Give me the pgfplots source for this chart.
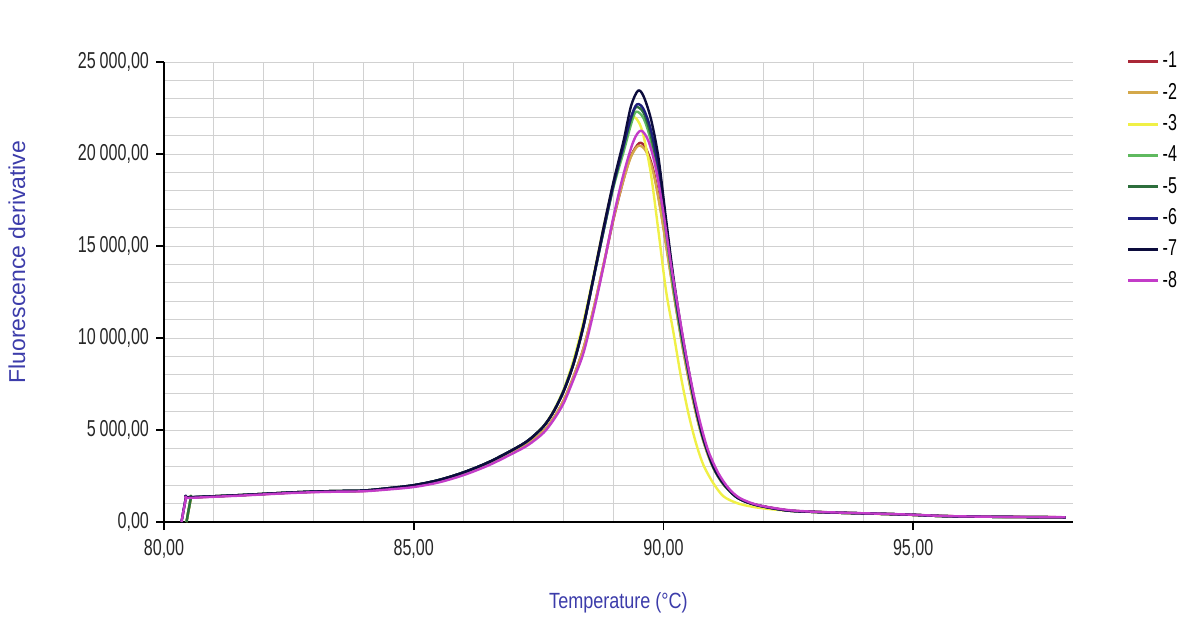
\documentclass[border=0pt]{standalone}
\usepackage{fontspec}
\setmainfont{Liberation Sans}
\newfontfamily\narrowfont{Liberation Sans}[FakeStretch=0.7]
\newfontfamily\xlabfont{Liberation Sans}[FakeStretch=0.82]
\usepackage{pgfplots}
\pgfplotsset{compat=1.18}
\definecolor{c1}{RGB}{170,40,55}
\definecolor{c2}{RGB}{212,168,74}
\definecolor{c3}{RGB}{240,240,70}
\definecolor{c4}{RGB}{95,185,95}
\definecolor{c5}{RGB}{45,110,60}
\definecolor{c6}{RGB}{30,30,125}
\definecolor{c7}{RGB}{12,12,60}
\definecolor{c8}{RGB}{195,60,200}
\definecolor{labblue}{RGB}{60,60,170}
\begin{document}
\begin{tikzpicture}[x=1pt,y=1pt]
\useasboundingbox (0,0) rectangle (591,311.5);
\begin{axis}[
  at={(82pt,50.5pt)}, anchor=south west,
  scale only axis, width=454.5pt, height=230pt,
  xmin=80, xmax=98.2, ymin=0, ymax=25000,
  scaled y ticks=false, scaled x ticks=false,
  axis x line*=bottom, axis y line*=left,
  axis line style={line width=1pt,-},
  xtick={80,85,90,95},
  xticklabels={{80,00},{85,00},{90,00},{95,00}},
  ytick={0,5000,10000,15000,20000,25000},
  yticklabels={{0,00},{5\,000,00},{10\,000,00},{15\,000,00},{20\,000,00},{25\,000,00}},
  minor x tick num=4, minor y tick num=4,
  grid=both,
  grid style={color=black!18, line width=0.5pt},
  major grid style={color=black!18, line width=0.5pt},
  tick style={black, line width=0.8pt},
  major tick length=4pt, minor tick length=0pt,
  tick align=outside,
  tick label style={font=\narrowfont\fontsize{11.5}{13}\selectfont, text=black!85},
  xticklabel style={yshift=-1pt},
  xlabel={Temperature (°C)},
  xlabel style={at={(axis description cs:0.5,-0.176)}, anchor=center, font=\xlabfont\fontsize{11}{13}\selectfont, text=labblue},
  ylabel={Fluorescence derivative},
  ylabel style={at={(axis description cs:-0.1617,0.565)}, anchor=center, font=\fontsize{11.5}{13}\selectfont, text=labblue},
  legend style={at={(axis description cs:1.052,1.038)}, anchor=north west, draw=none, fill=none,
    font=\narrowfont\fontsize{11.5}{13}\selectfont, row sep=3.2pt, nodes={inner sep=1.5pt}},
  legend cell align=left,
  legend image code/.code={\draw[#1,line width=1.5pt] (0pt,0pt) -- (15pt,0pt);},
  every axis plot/.append style={line width=1.2pt, line join=round, smooth, tension=0.5},
]
% -1
\addplot[c1] coordinates {(80.45,0)(80.54,1330)(80.56,1332)(81.0,1390)(81.5,1450)(82.0,1520)(82.5,1590)(83.0,1640)(83.5,1670)(84.0,1690)(84.5,1800)(85.0,1940)(85.5,2200)(86.0,2600)(86.5,3130)(87.0,3820)(87.3,4280)(87.6,4950)(87.8,5650)(88.0,6600)(88.2,7900)(88.4,9450)(88.6,11550)(88.8,13950)(89.0,16450)(89.2,18600)(89.35,19900)(89.52,20600)(89.65,20300)(89.8,19100)(89.95,16900)(90.1,14300)(90.25,11700)(90.4,9300)(90.55,7200)(90.7,5400)(90.85,4000)(91.0,2950)(91.2,2050)(91.45,1400)(91.7,1060)(92.0,850)(92.5,630)(93.0,555)(93.5,510)(94.0,470)(94.5,435)(95.0,390)(95.5,335)(96.0,305)(96.5,290)(97.0,278)(97.5,268)(98.05,258)};
\addlegendentry{-1}
% -2
\addplot[c2] coordinates {(80.45,0)(80.54,1330)(80.56,1332)(81.0,1390)(81.5,1450)(82.0,1520)(82.5,1590)(83.0,1640)(83.5,1670)(84.0,1690)(84.5,1800)(85.0,1940)(85.5,2200)(86.0,2600)(86.5,3130)(87.0,3820)(87.3,4280)(87.6,4950)(87.8,5650)(88.0,6600)(88.2,7900)(88.4,9450)(88.6,11600)(88.8,14000)(89.0,16500)(89.2,18600)(89.35,19850)(89.5,20450)(89.65,20150)(89.8,18950)(89.95,16800)(90.1,14200)(90.25,11650)(90.4,9250)(90.55,7150)(90.7,5350)(90.85,3950)(91.0,2930)(91.2,2040)(91.45,1390)(91.7,1055)(92.0,845)(92.5,628)(93.0,553)(93.5,508)(94.0,468)(94.5,433)(95.0,388)(95.5,333)(96.0,303)(96.5,288)(97.0,276)(97.5,266)(98.05,256)};
\addlegendentry{-2}
% -3
\addplot[c3] coordinates {(80.45,0)(80.54,1340)(80.56,1342)(81.0,1400)(81.5,1460)(82.0,1530)(82.5,1600)(83.0,1655)(83.5,1685)(84.0,1710)(84.5,1840)(85.0,2000)(85.5,2280)(86.0,2700)(86.5,3250)(87.0,3950)(87.3,4450)(87.6,5220)(87.8,6050)(88.0,7200)(88.2,8800)(88.4,10900)(88.6,13400)(88.8,16000)(89.0,18400)(89.2,20500)(89.38,21950)(89.5,21750)(89.6,21000)(89.75,18900)(89.9,15800)(90.05,12600)(90.2,10300)(90.35,7900)(90.5,5900)(90.65,4300)(90.8,3100)(91.0,2100)(91.2,1400)(91.45,1050)(91.7,870)(92.0,740)(92.5,610)(93.0,545)(93.5,500)(94.0,465)(94.5,430)(95.0,385)(95.5,330)(96.0,300)(96.5,285)(97.0,275)(97.5,265)(98.05,255)};
\addlegendentry{-3}
% -4
\addplot[c4] coordinates {(80.45,0)(80.54,1340)(80.56,1342)(81.0,1400)(81.5,1460)(82.0,1530)(82.5,1600)(83.0,1655)(83.5,1685)(84.0,1710)(84.5,1840)(85.0,2000)(85.5,2280)(86.0,2700)(86.5,3250)(87.0,3950)(87.3,4450)(87.6,5200)(87.8,6000)(88.0,7150)(88.2,8650)(88.4,10700)(88.6,13250)(88.8,15800)(89.0,18200)(89.2,20100)(89.35,21600)(89.45,22300)(89.6,21950)(89.75,20700)(89.9,18600)(90.05,15700)(90.2,12700)(90.35,10200)(90.5,8050)(90.65,6050)(90.8,4450)(91.0,2950)(91.2,2050)(91.45,1370)(91.7,1045)(92.0,838)(92.5,620)(93.0,550)(93.5,505)(94.0,470)(94.5,435)(95.0,390)(95.5,330)(96.0,300)(96.5,285)(97.0,275)(97.5,265)(98.05,255)};
\addlegendentry{-4}
% -5
\addplot[c5] coordinates {(80.45,0)(80.54,1340)(80.56,1342)(81.0,1400)(81.5,1460)(82.0,1530)(82.5,1600)(83.0,1655)(83.5,1685)(84.0,1710)(84.5,1840)(85.0,2000)(85.5,2280)(86.0,2700)(86.5,3250)(87.0,3950)(87.3,4450)(87.6,5200)(87.8,6000)(88.0,7100)(88.2,8600)(88.4,10650)(88.6,13250)(88.8,15800)(89.0,18300)(89.2,20400)(89.35,21900)(89.45,22550)(89.6,22250)(89.75,21000)(89.9,18900)(90.05,15900)(90.2,12900)(90.35,10350)(90.5,8150)(90.65,6150)(90.8,4500)(91.0,2980)(91.2,2080)(91.45,1380)(91.7,1050)(92.0,840)(92.5,620)(93.0,550)(93.5,505)(94.0,470)(94.5,435)(95.0,390)(95.5,330)(96.0,300)(96.5,285)(97.0,275)(97.5,265)(98.05,255)};
\addlegendentry{-5}
% -6
\addplot[c6] coordinates {(80.35,0)(80.44,1345)(80.46,1347)(81.0,1400)(81.5,1460)(82.0,1530)(82.5,1600)(83.0,1655)(83.5,1685)(84.0,1710)(84.5,1840)(85.0,2000)(85.5,2280)(86.0,2700)(86.5,3250)(87.0,3950)(87.3,4450)(87.6,5200)(87.8,6000)(88.0,7100)(88.2,8600)(88.4,10650)(88.6,13250)(88.8,15850)(89.0,18350)(89.2,20450)(89.35,22000)(89.47,22700)(89.6,22450)(89.75,21300)(89.9,19300)(90.05,16200)(90.2,13100)(90.35,10500)(90.5,8250)(90.65,6200)(90.8,4550)(91.0,3000)(91.2,2100)(91.45,1380)(91.7,1050)(92.0,840)(92.5,620)(93.0,550)(93.5,505)(94.0,470)(94.5,435)(95.0,390)(95.5,330)(96.0,300)(96.5,285)(97.0,275)(97.5,265)(98.05,255)};
\addlegendentry{-6}
% -7
\addplot[c7] coordinates {(80.35,0)(80.44,1340)(80.46,1342)(81.0,1400)(81.5,1460)(82.0,1530)(82.5,1600)(83.0,1655)(83.5,1685)(84.0,1710)(84.5,1840)(85.0,2000)(85.5,2280)(86.0,2700)(86.5,3250)(87.0,3950)(87.3,4450)(87.6,5200)(87.8,6000)(88.0,7100)(88.2,8600)(88.4,10700)(88.6,13300)(88.8,16000)(89.0,18500)(89.2,20700)(89.35,22600)(89.49,23440)(89.6,23150)(89.75,21900)(89.9,19800)(90.05,16500)(90.2,13300)(90.35,10600)(90.5,8300)(90.65,6200)(90.8,4550)(91.0,3000)(91.2,2100)(91.45,1380)(91.7,1050)(92.0,840)(92.5,620)(93.0,550)(93.5,505)(94.0,470)(94.5,435)(95.0,390)(95.5,330)(96.0,300)(96.5,285)(97.0,275)(97.5,265)(98.05,255)};
\addlegendentry{-7}
% -8
\addplot[c8] coordinates {(80.35,0)(80.44,1300)(80.46,1302)(81.0,1370)(81.5,1430)(82.0,1500)(82.5,1570)(83.0,1620)(83.5,1650)(84.0,1670)(84.5,1770)(85.0,1900)(85.5,2150)(86.0,2550)(86.5,3080)(87.0,3750)(87.3,4200)(87.6,4850)(87.8,5550)(88.0,6450)(88.2,7750)(88.4,9200)(88.6,11400)(88.8,13900)(89.0,16600)(89.2,18900)(89.4,20700)(89.55,21270)(89.7,20700)(89.85,19200)(90.0,16800)(90.15,14000)(90.3,11500)(90.45,9100)(90.6,7000)(90.75,5250)(90.9,3850)(91.1,2650)(91.3,1850)(91.5,1350)(91.75,1040)(92.0,860)(92.5,650)(93.0,560)(93.5,515)(94.0,475)(94.5,440)(95.0,395)(95.5,340)(96.0,305)(96.5,290)(97.0,280)(97.5,270)(98.05,260)};
\addlegendentry{-8}
\end{axis}
\end{tikzpicture}
\end{document}
